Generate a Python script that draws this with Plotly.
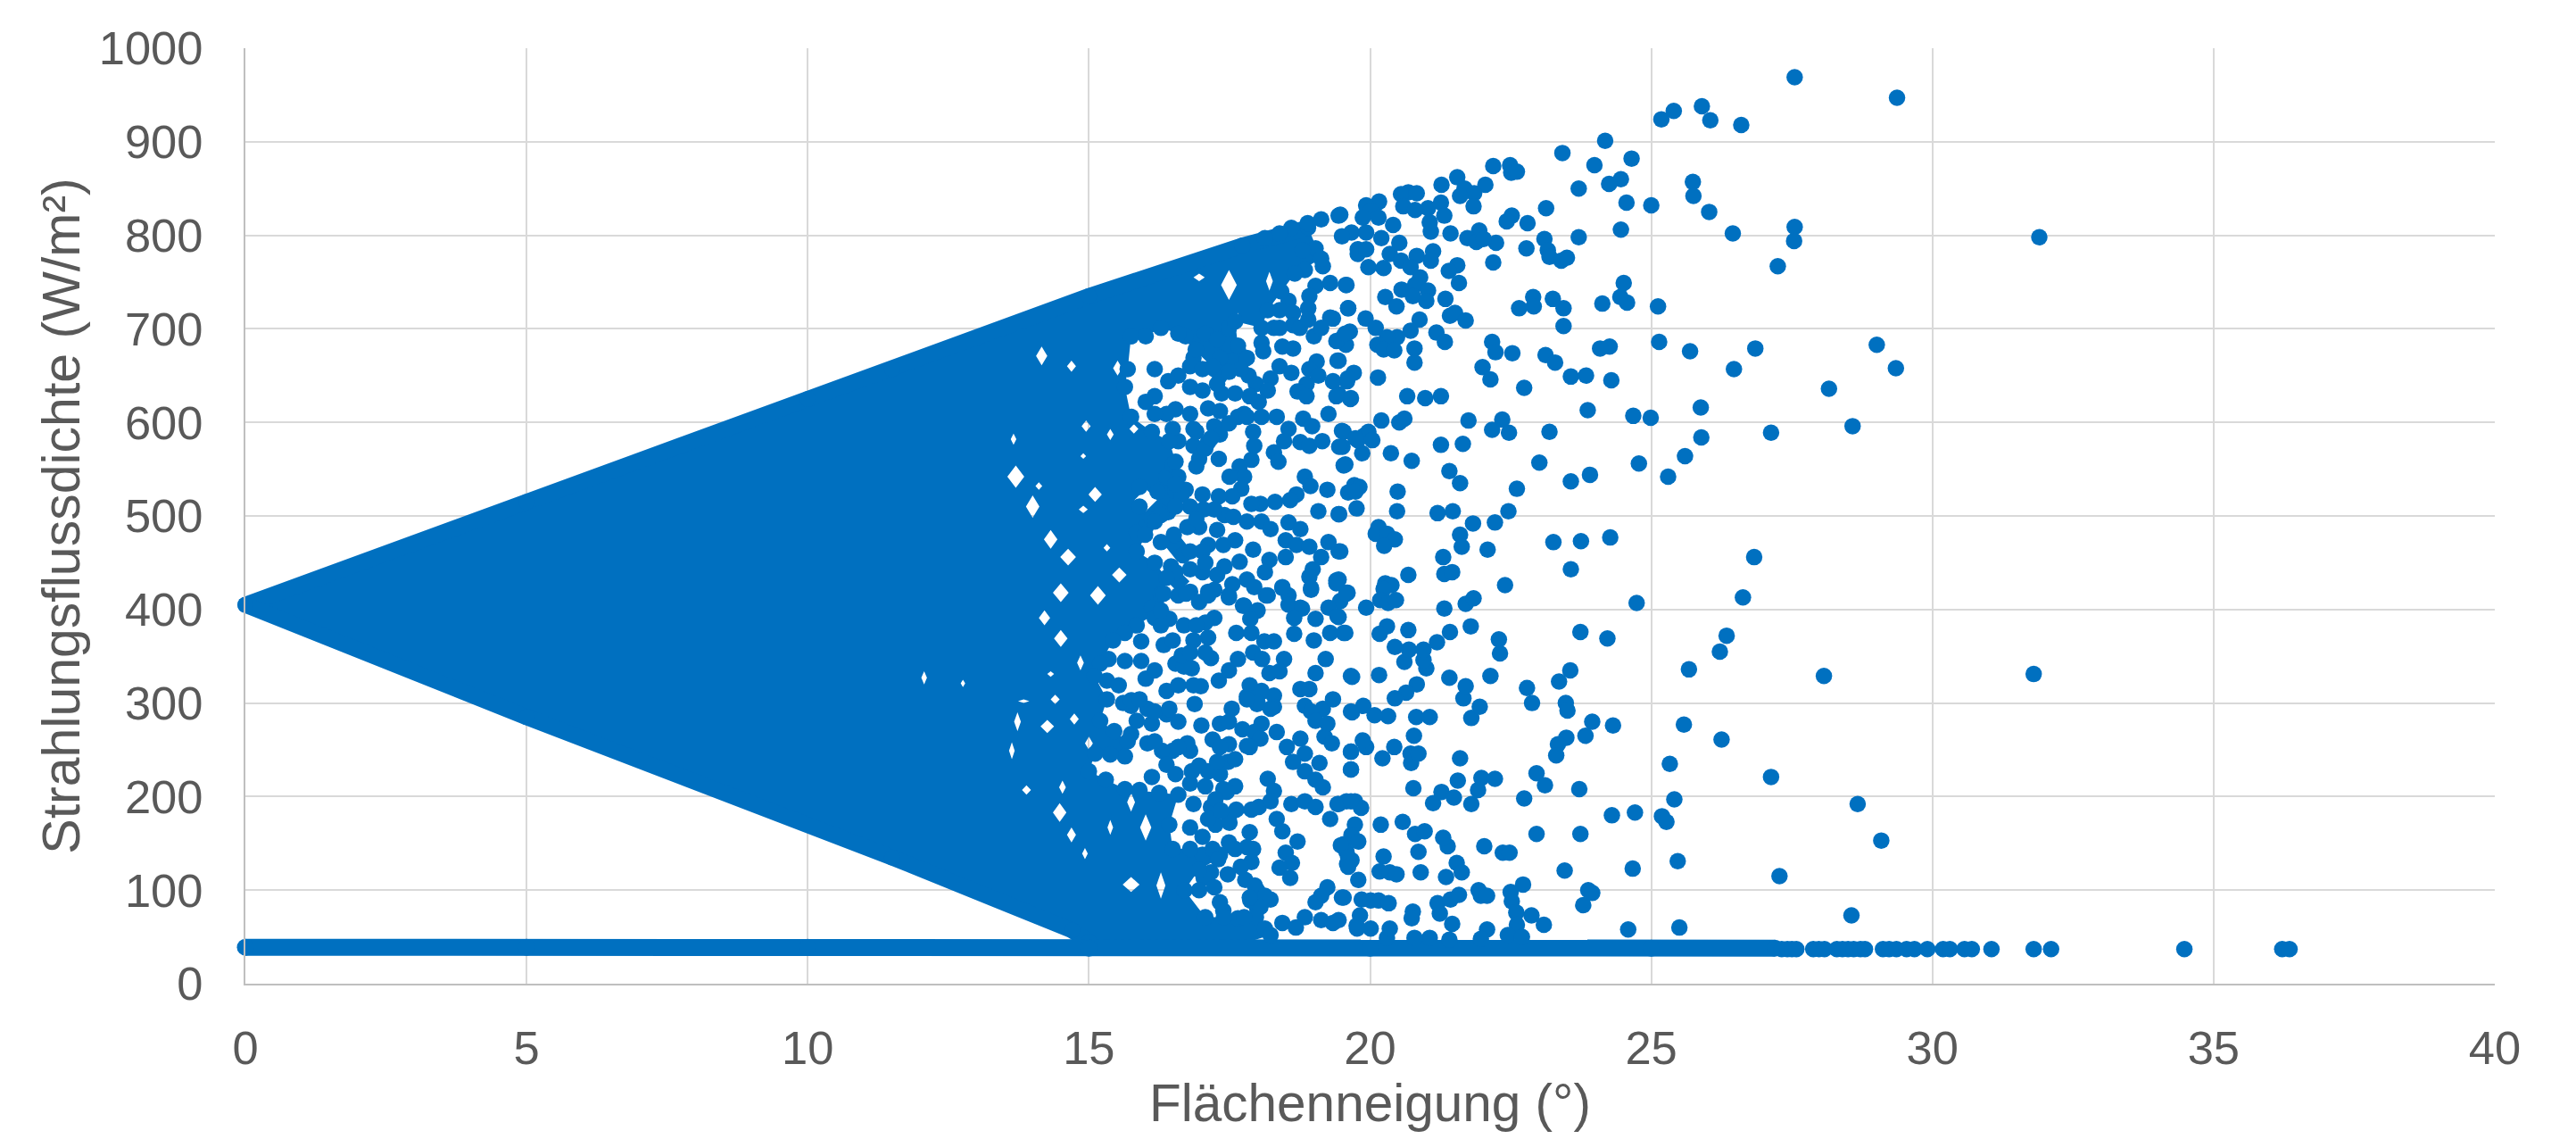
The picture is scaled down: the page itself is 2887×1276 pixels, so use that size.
import plotly.graph_objects as go

BLUE = "#0070C0"
GREY = "#595959"

x_ticks = [0, 5, 10, 15, 20, 25, 30, 35, 40]
y_ticks = [0, 100, 200, 300, 400, 500, 600, 700, 800, 900, 1000]

# Closely packed part of the cloud, too dense to separate into points: outline
core_x = [0,5,10,11.5,15,17.73,18.9,19.13,18.66,18.18,18.07,17.6,17.65,17.81,17.7,17.49,17.23,16.59,16.28,16.01,15.75,15.69,15.64,15.75,16.12,16.43,16.54,16.54,16.28,16.17,15.85,16.17,16.38,16.28,15.85,15.43,15.2,15.1,15.32,15.2,15.69,15.64,15.11,15,15.64,16.59,16.43,16.49,16.8,17.6,16.96,16.7,17.07,17.76,18.13,18.23,17.7,15,14.7,11.5,5]
core_y = [405,515,625,657,735,789,808,775,759,720,701,708,682,669,657,654,657,695,701,692,692,657,638,606,590,580,558,510,501,494,462,450,434,399,383,367,342,329,304,281,259,243,246,227,208,202,170,144,144,144,122,100,71,71,59,52,42,45,57,135,285]

# Upper and lower edge of the packed part
edge_upper_x = [0, 5, 10, 11.5, 15, 17.73, 18.9]
edge_upper_y = [405, 515, 625, 657, 735, 789, 808]
edge_lower_x = [0, 5, 11.5, 14.7, 15]
edge_lower_y = [405, 285, 135, 57, 45]

# Discs that form the jagged right edge of the packed part
rim_points = [(19.13,775),(18.66,759),(18.42,740),(18.18,720),(18.07,701),(17.6,708),(17.65,682),(17.81,669),(17.7,657),(17.49,654),(17.23,657),(17.2,660),(16.9,678),(16.59,695),(16.28,701),(16.01,692),(15.75,692),(15.69,657),(15.64,638),(15.75,606),(16.12,590),(16.43,580),(16.54,558),(16.54,534),(16.54,510),(16.28,501),(16.17,494),(16.0,480),(15.85,462),(16.17,450),(16.38,434),(16.28,399),(15.85,383),(15.64,375),(15.43,367),(15.2,342),(15.1,329),(15.32,304),(15.2,281),(15.45,270),(15.69,259),(15.64,243),(15.38,245),(15.11,246),(15,227),(15.3,218),(15.64,208),(15.9,207),(16.25,204),(16.59,202),(16.43,170),(16.49,144),(16.8,144),(17.2,144),(17.6,144),(17.3,133),(16.96,122),(16.7,100),(17.07,71),(17.4,71),(17.76,71),(18.13,59),(18.23,52)]

# White gaps inside the packed part: centre degree, centre value, half width, half height
gap_deg = [14.16,14.69,15.51,16.96,17.49,18.21,17.65,13.66,13.7,14.11,14.0,14.9,15.11,14.63,15.32,14.32,15.54,14.5,15.16,15.38,14.95,15.8,14.9,14.21,14.5,14.85,14.32,13.84,14.4,13.73,14.26,14.74,13.63,15.0,14.48,14.69,14.93,15.75,16.01,15.75,15.38,14.53,16.28,13.89,16.01,16.54,16.96,16.59,12.07,12.76]
gap_val = [671,660,658,755,747,751,711,582,542,532,510,507,523,456,466,475,437,418,415,587,596,593,564,391,369,343,331,302,304,280,275,283,249,257,183,159,139,106,167,194,167,210,105,207,517,469,504,430,327,321]
gap_dx = [.1,.08,.08,.1,.14,.06,.05,.05,.15,.06,.12,.08,.12,.14,.06,.12,.13,.14,.14,.06,.08,.08,.05,.1,.12,.06,.06,.1,.08,.06,.12,.08,.05,.07,.12,.08,.05,.15,.1,.07,.05,.06,.08,.08,.2,.2,.1,.2,.05,.04]
gap_dv = [10,6,8,4,16,10,6,6,12,4,12,4,8,9,4,10,8,10,10,6,6,5,3,8,9,8,3,2,5,10,7,6,9,7,10,8,6,8,14,10,8,7,14,5,12,15,8,12,7,4]

baseline_x = [0, 5, 10, 15, 20, 25, 27.2]
baseline_y = [39, 39, 39, 38, 38, 38, 38]
tail_x = [27.32,27.42,27.5,27.58,27.88,27.98,28.08,28.3,28.4,28.5,28.6,28.72,28.8,29.12,29.23,29.36,29.54,29.68,29.91,30.19,30.31,30.57,30.7,31.05,31.8,32.11,34.48,36.22,36.35]
tail_y = [37]*len(tail_x)

upper_points = [(27.55,969),(26.6,918),(26.05,923),(25.9,938),(25.4,933),(25.18,924),(24.18,901),(23.42,888),(24.65,882),(23.99,875),(24.46,860),(24.25,855),(23.71,850),(24.56,835),(25,832),(25.74,857),(25.75,842),(26.03,825),(26.45,802),(27.55,809),(27.54,794),(27.25,767),(24.46,806),(23.71,798),(23.13,829),(22.8,813),(22.52,821),(22.43,815),(22.19,874),(22.49,875),(22.51,867),(22.61,868),(22.05,854),(23.1,796),(22.78,786),(23.16,784),(23.19,777),(23.4,773),(23.5,776),(22.19,771),(22.24,792),(21.94,805),(21.73,797),(21.89,793),(22.02,796),(21.43,802),(21.08,804),(21.55,862),(21.27,854),(21.68,850),(21.85,845),(21.6,842),(21.84,831),(21.26,835),(21.32,821),(21.03,829),(21.06,814),(20.68,846),(20.55,844),(20.83,845),(20.59,831),(20.8,827),(20.16,836),(19.93,832),(20.01,826),(19.87,819),(20.15,819),(20.41,811),(20.2,797),(19.44,821),(19.67,803),(19.93,803),(19.5,799),(19.78,785),(19.78,780),(19.93,785),(20.52,792),(20.35,780),(21.12,783),(21.08,773),(20.83,778),(20.55,773),(20.72,766),(19.97,766),(20.24,765),(21.55,768),(21.4,762),(21.58,749),(20.89,755),(20.8,747),(21.03,741),(20.56,742),(20.76,735),(21,730),(20.27,734),(20.47,724),(21.34,732),(19.57,747),(19.61,722),(19.92,711),(20.1,701),(20.88,710),(21.42,714),(21.51,717),(21.7,709),(20.72,698),(21.18,696),(21.33,686),(19.64,697),(19.53,692),(19.57,683),(20.48,691),(20.3,691),(20.13,683),(20.24,678),(20.43,677),(20.79,679),(20.79,664),(19.44,666),(20.14,648),(19.71,653),(19.59,644),(19.44,630),(19.65,625),(20.66,628),(20.98,626),(21.26,628),(20.2,602),(20.52,600),(20.61,604),(21.75,602),(22.35,603),(22.17,592),(22.47,589),(23.19,590),(23.87,613),(24.68,607),(24.99,605),(25.88,616),(25.89,584),(25.6,564),(24.78,556),(25.3,542),(27.13,589),(26.47,657),(26.85,679),(25.69,676),(25.14,686),(24.26,681),(24.09,679),(25.12,724),(24.57,728),(24.45,734),(24.51,749),(24.13,727),(23.44,722),(23.25,732),(22.9,734),(22.91,724),(22.65,722),(23.44,703),(22.17,686),(22.23,675),(22.53,674),(23.12,672),(23.29,664),(22,659),(22.14,646),(22.74,637),(23.57,649),(23.84,650),(24.29,645),(28.16,636),(23.01,557),(23.91,544),(23.57,537),(22.61,529),(21.26,576),(21.65,577),(20.37,567),(20.74,559),(21.41,548),(21.6,535),(20.49,526),(20.48,505),(19.76,508),(21.2,503),(21.47,505),(22.46,505),(19.44,502),(19.72,533),(19.81,531),(19.61,525),(19.53,554),(19.86,567),(19.9,586),(19.97,590),(20.04,581),(19.78,581),(19.53,590),(19.51,574),(29.37,947),(31.9,798),(29.01,683),(29.35,658),(28.58,596)]

lower_points = [(21.83,492),(22.22,493),(21.6,480),(21.63,467),(22.09,464),(21.3,456),(21.32,438),(21.46,440),(20.68,437),(22.4,426),(20.15,488),(20.1,481),(20.3,481),(20.44,475),(20.25,468),(19.47,462),(19.44,432),(20.27,428),(20.38,426),(20.24,422),(19.6,418),(20.18,410),(20.32,407),(20.46,410),(19.93,402),(19.47,409),(21.32,401),(21.7,406),(21.84,412),(23.26,472),(23.75,473),(24.27,477),(23.57,443),(26.83,456),(26.63,413),(24.74,407),(23.74,376),(24.22,369),(26.34,372),(26.22,355),(25.67,336),(28.07,329),(23.56,335),(23.36,323),(22.79,316),(22.88,300),(23.48,300),(23.51,292),(23.95,280),(24.32,276),(23.83,265),(23.49,263),(23.34,256),(23.31,244),(25.58,277),(26.25,261),(25.33,235),(27.13,221),(23.72,208),(22.96,225),(23.11,212),(22.74,198),(25.41,197),(24.71,183),(24.3,180),(25.19,179),(25.27,173),(23.74,160),(22.96,160),(25.47,131),(24.67,123),(23.46,121),(27.28,115),(22.72,106),(23.88,100),(23.95,97),(23.79,84),(22.87,73),(23.09,63),(24.59,58),(25.5,60),(22.5,98),(22.52,88),(22.6,76),(22.61,63),(22.45,52),(22.7,50),(22.08,58),(21.97,48),(21.41,47),(21.06,49),(20.79,49),(20.3,49),(20.35,59),(20.01,59),(19.76,62),(19.82,73),(20.76,77),(20.74,70),(21.46,64),(21.24,75),(21.2,86),(21.43,90),(21.58,95),(21.93,100),(21.97,94),(22.08,94),(19.85,90),(20.01,89),(20.15,89),(20.33,86),(19.5,92),(19.44,68),(19.79,111),(20.17,120),(20.35,119),(20.47,117),(20.24,136),(19.59,128),(19.67,132),(20.9,119),(21.35,114),(21.54,129),(21.63,119),(20.86,141),(21.38,147),(21.3,156),(22.03,147),(22.36,140),(22.48,140),(20.8,160),(20.97,163),(20.58,173),(20.19,170),(19.73,170),(19.67,159),(19.79,152),(19.53,149),(19.58,141),(21.12,193),(21.27,205),(21.49,199),(21.8,192),(21.92,207),(21.98,220),(22.22,219),(21.56,217),(20.77,209),(19.84,188),(19.73,195),(19.58,195),(19.44,192),(19.66,229),(20.22,241),(19.66,248),(19.93,253),(19.87,260),(20.43,253),(20.78,265),(20.73,236),(20.72,246),(20.86,246),(21.6,241),(20.82,285),(21.06,285),(20.32,286),(20.08,287),(19.88,297),(19.68,290),(21.8,284),(21.95,296),(21.66,305),(21.7,318),(21.41,327),(22.14,329),(20.83,320),(20.64,311),(20.44,305),(20.16,330),(19.68,328),(21,337),(20.95,346),(20.61,344),(20.69,357),(20.95,357),(20.44,360),(21.19,365),(21.42,376),(21.79,382),(22.29,368),(22.31,353),(20.68,378),(20.3,382),(20.17,374),(19.53,375),(19.44,392),(31.8,331),(28.67,192),(29.09,153),(28.56,73)]

mid_upper_points = [(19.47,822),(19.13,817),(18.89,813),(18.6,808),(18.39,802),(18.13,797),(17.73,789),(19.03,786),(18.8,784),(19.16,767),(18.84,763),(19.58,747),(19.61,722),(19.29,749),(19.03,746),(18.92,735),(18.55,730),(18.39,720),(18.63,717),(19.29,712),(18.63,704),(18.29,701),(18.07,685),(18.1,676),(19,692),(19.4,687),(19.56,695),(19.42,666),(19.05,665),(18.63,679),(18.44,681),(17.68,673),(17.55,666),(17.33,650),(17.84,650),(17.97,641),(18.39,660),(18.6,653),(18.23,647),(18.92,657),(19.08,650),(18.87,641),(18.71,633),(18.87,628),(19.34,644),(19.4,628),(19.6,647),(19.66,626),(18.18,634),(18.02,622),(17.76,609),(17.86,628),(17.65,606),(17.36,631),(17.12,615),(16.8,660),(16.59,650),(16.17,657),(16.41,644),(16.17,628),(16.54,614),(16.8,609),(17.23,596),(17.33,587),(17.12,579),(16.86,593),(16.86,575),(16.96,561),(16.91,553),(17.31,561),(17.94,575),(17.89,560),(17.68,553),(17.76,542),(17.5,542),(17.71,529),(17.55,521),(18.34,606),(18.55,593),(18.47,580),(18.29,568),(18.37,558),(18.81,604),(18.97,596),(19.26,609),(18.76,579),(18.92,575),(19.15,580),(19.5,591),(19.45,574),(19.74,583),(19.56,555),(18.84,542),(18.94,532),(18.69,523),(18.58,517),(19.24,528),(19.08,505),(19.45,502),(19.74,526),(18.31,515),(18.05,513),(17.89,513),(17.31,521),(17.02,523),(16.72,528),(17.04,507),(16.54,526),(16.38,542),(16.49,555),(15.9,531),(15.9,510),(16.41,504),(17.41,501),(17.81,494),(18.07,494),(18.23,486),(17.57,499),(18.55,493),(18.76,486),(16.96,488),(16.75,488),(17.12,469),(17.02,462),(16.51,480),(16.28,472),(16.01,488),(15.85,482),(17.6,474),(17.92,464),(18.21,453),(18.13,440),(18.5,474),(18.69,469),(18.92,467),(19.26,472),(19.44,462),(19.13,456),(18.98,443),(18.5,456),(17.68,451),(17.41,446),(17.28,437),(17.02,440),(16.67,458),(16.46,446),(16.8,443),(17.81,432),(17.94,424),(18.15,415),(18.44,424),(18.95,421),(18.92,435),(19.4,431),(19.58,418),(19.26,402),(18.55,415),(18.76,402),(17.49,415),(17.76,404),(17.12,419),(16.8,419),(16.96,408),(16.59,415),(16.28,416),(16.12,402),
    (18.9,722),(19.34,711),(19.13,701),(18.75,701),(18.39,701),(18.9,710),(16.72,692),(16.86,669),(17.02,657),(17.33,669),(17.07,695),(17.28,689),(17.49,701),(16.8,638),(17.02,634),(17.28,641),(17.6,631),(17.33,612),(17.49,599),(17.81,606),(17.92,590),(18.07,606),(16.91,590),(17.07,572),(17.17,583),(16.59,580),(16.49,593),(16.38,609),(16.17,609),(16.01,622),(16.59,542),(16.65,523),(16.22,526),(16.28,504),(16.12,497),(17.23,507),(16.8,510),(16.91,497),(17.28,485),(17.39,469),(17.07,450),(16.8,462),(16.54,440),(17.55,427),(17.23,421)]

mid_lower_points = [(16.33,417),(16.73,417),(17.12,415),(17.49,413),(18.18,415),(17.74,404),(18,399),(17.87,390),(18.44,423),(18.95,423),(19.58,417),(19.4,428),(18.55,405),(18.79,401),(19.03,390),(18.65,391),(19,367),(18.65,374),(19.29,375),(19.56,375),(19.42,393),(17.23,391),(17.07,386),(16.17,391),(16.69,383),(16.43,390),(15.93,366),(15.93,345),(16.33,362),(16.86,367),(17.12,370),(17.17,348),(16.83,337),(16.54,342),(16.69,339),(15.64,345),(15.35,347),(16.01,326),(16.38,313),(16.59,319),(16.99,318),(17.31,324),(17.49,335),(17.65,347),(17.92,354),(18.08,347),(17.62,375),(17.89,375),(18.12,366),(18.29,366),(18.21,332),(18.47,347),(18.39,334),(19.03,332),(19.21,347),(19.66,329),(18.76,315),(18.92,315),(17.86,319),(18.07,313),(18.29,308),(17.81,307),(17.99,299),(18.29,296),(18.84,297),(19.16,294),(19.34,304),(18.95,291),(19.03,281),(19.19,264),(19.32,257),(19.24,278),(19.66,291),(19.66,248),(19.66,229),(16.88,299),(17,276),(17.54,294),(17.33,278),(17.49,280),(17.73,272),(18.07,278),(18.34,269),(17.94,269),(17.2,261),(17.49,256),(17.81,254),(18.05,262),(18.52,253),(18.76,262),(18.84,246),(18.63,237),(19.1,236),(18.84,227),(19.03,218),(19.16,210),(18.18,219),(18.29,206),(18.6,192),(18.84,195),(19.03,189),(19.42,192),(19.66,195),(19.29,176),(18.02,189),(18.23,195),(17.89,186),(18.34,176),(18.44,163),(18.71,152),(17.86,162),(17.92,144),(17.81,146),(17.89,130),(18.5,140),(18.61,129),(18.39,124),(18.58,113),(19.48,148),(19.61,135),(19.61,125),(17.47,237),(17.33,224),(16.83,227),(17.12,227),(17.6,211),(17.39,208),(17.62,186),(17.49,178),(17.17,189),(17.25,170),(17.12,176),(16.8,167),(17.02,157),(17.49,151),(16.8,249),(16.75,257),(16.49,249),(16.3,249),(16.04,257),(15.75,267),(16.59,280),(16.38,288),(16.12,278),(16.04,294),(15.75,297),(15.61,300),(17.17,119),(17.47,117),(17.78,111),(17.99,100),(18.23,90),(17.87,89),(17.99,81),(17.39,78),(17.04,113),(16.96,100),(17.65,70),(18.44,65),(18.84,71),(19.13,94),(19.24,103),(19.03,87),(19.53,92),(19.13,68),(19.34,65),(18.68,60),(19.77,59),
    (18.05,311),(18.23,294),(18,300),(17.81,304),(17.45,205),(17.5,172),(17.25,197),(17.35,185),(17.95,105),(18.13,94),(18.05,82),(17.97,71),(17.86,92),(15.32,324),(15.53,319),(15.75,303),(16.28,383),(16.49,367),(16.91,383),(17.07,354),(16.65,351),(16.17,335),(16.8,354),(16.86,319),(16.17,291),(15.9,304),(16.43,294),(15.85,281),(16.17,259),(16.59,253),(16.38,234),(16.12,221),(16.54,224),(16.96,233),(16.8,214),(17.28,237),(17.33,253),(17.6,240),(17.86,253),(16.86,192),(17.07,211),(17.02,138),(17.33,138),(17.7,125),(17.23,103),(17.33,87)]

cloud = upper_points + lower_points + mid_upper_points + mid_lower_points + rim_points
cloud_x = [p[0] for p in cloud]
cloud_y = [p[1] for p in cloud]

fill_x, fill_y = list(core_x), list(core_y)
for d, v, dx, dv in zip(gap_deg, gap_val, gap_dx, gap_dv):
    fill_x += [None, d, d - dx, d, d + dx]
    fill_y += [None, v + dv, v, v - dv, v]

fig = go.Figure()
fig.add_trace(go.Scatter(x=fill_x, y=fill_y, mode="none", fill="toself", fillcolor=BLUE,
                         hoverinfo="skip", showlegend=False, cliponaxis=False))
for ex, ey in [(edge_upper_x, edge_upper_y), (edge_lower_x, edge_lower_y)]:
    fig.add_trace(go.Scatter(x=ex, y=ey, mode="lines+markers", line=dict(color=BLUE, width=18),
                             marker=dict(color=BLUE, size=18, line=dict(width=0)),
                             hoverinfo="skip", showlegend=False, cliponaxis=False))
fig.add_trace(go.Scatter(x=baseline_x, y=baseline_y, mode="lines+markers",
                         line=dict(color=BLUE, width=19), marker=dict(color=BLUE, size=19, line=dict(width=0)),
                         showlegend=False, cliponaxis=False))
fig.add_trace(go.Scatter(x=tail_x, y=tail_y, mode="markers",
                         marker=dict(color=BLUE, size=18.5, line=dict(width=0)), showlegend=False, cliponaxis=False))
fig.add_trace(go.Scatter(x=cloud_x, y=cloud_y, mode="markers",
                         marker=dict(color=BLUE, size=18.5, line=dict(width=0)), showlegend=False, cliponaxis=False))

axis_common = dict(showgrid=True, gridcolor="#D9D9D9", gridwidth=2, zeroline=False,
                   showline=True, linecolor="#BFBFBF", linewidth=2, ticks="outside",
                   tickcolor="rgba(0,0,0,0)", tickfont=dict(family="Liberation Sans", size=52.5, color=GREY))
fig.update_xaxes(range=[0, 40], tickvals=x_ticks, ticklen=25, **axis_common,
                 title=dict(text="Flächenneigung (°)", font=dict(family="Liberation Sans", size=58.5, color=GREY), standoff=1))
fig.update_yaxes(range=[0, 1000], tickvals=y_ticks, ticklen=35, **axis_common,
                 title=dict(text="Strahlungsflussdichte (W/m²)", font=dict(family="Liberation Sans", size=59, color=GREY), standoff=2))
fig.update_layout(width=2887, height=1276, margin=dict(l=267, r=99, t=46, b=182, autoexpand=False),
                  paper_bgcolor="white", plot_bgcolor="white", showlegend=False)
fig.write_html("out.html")
